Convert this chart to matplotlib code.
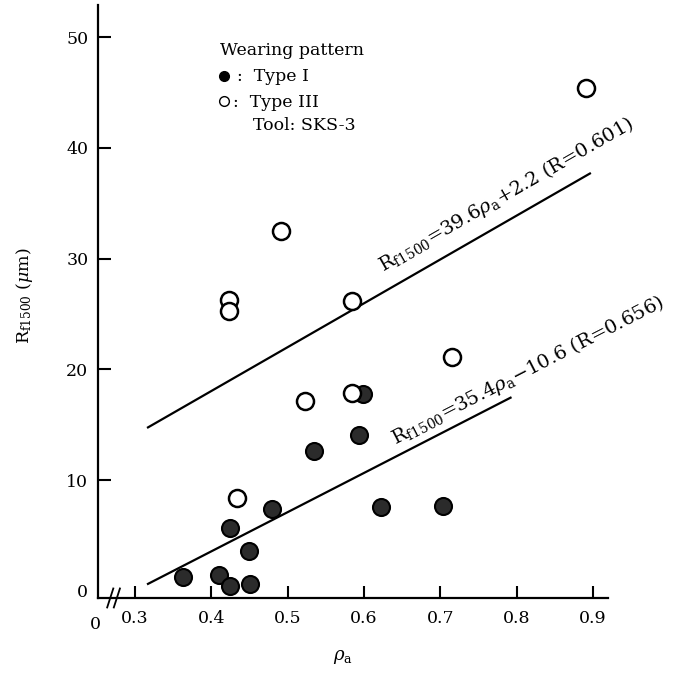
import matplotlib.pyplot as plt
import numpy as np

plt.rcParams['font.family'] = ['DejaVu Serif']
plt.rcParams['mathtext.fontset'] = 'dejavuserif'

# Type I (filled) and Type III (open) wearing pattern
rho_type1 = np.array([0.363, 0.410, 0.424, 0.451, 0.449, 0.424, 0.479, 0.535, 0.599, 0.593, 0.622, 0.703])
rf_type1 = np.array([1.2, 1.4, 0.4, 0.6, 3.6, 5.7, 7.4, 12.6, 17.8, 14.1, 7.6, 7.65])
rho_type3 = np.array([0.433, 0.523, 0.584, 0.715, 0.584, 0.491, 0.423, 0.423, 0.891])
rf_type3 = np.array([8.4, 17.1, 26.2, 21.1, 17.9, 32.5, 26.3, 25.3, 45.4])

# regression lines: slope, intercept, x range
fit_slope = [39.6, 35.4]
fit_icpt = [2.2, -10.6]
fit_xmin = [0.317, 0.317]
fit_xmax = [0.896, 0.792]
fit_text = [r'R$_{\mathrm{f1500}}$=39.6$\rho_{\mathrm{a}}$+2.2 (R=0.601)',
            r'R$_{\mathrm{f1500}}$=35.4$\rho_{\mathrm{a}}$$-$10.6 (R=0.656)']
fit_text_pos = [(0.625, 28.8), (0.641, 13.2)]

xticks = [0.3, 0.4, 0.5, 0.6, 0.7, 0.8, 0.9]
yticks = [0, 10, 20, 30, 40, 50]

fig = plt.figure(figsize=(6.74, 6.83), dpi=100)
ax = fig.add_axes([0.1454, 0.1245, 0.7567, 0.8682])

ax.scatter(rho_type1, rf_type1, s=150, facecolor='#2b2b2b', edgecolor='black', linewidth=1.5, zorder=3, clip_on=False)
ax.scatter(rho_type3, rf_type3, s=150, facecolor='white', edgecolor='black', linewidth=1.8, zorder=3, clip_on=False)

for k in range(2):
    xs = np.array([fit_xmin[k], fit_xmax[k]])
    ax.plot(xs, fit_slope[k] * xs + fit_icpt[k], color='black', lw=1.6)
    ang = np.degrees(np.arctan(fit_slope[k]))
    ax.text(fit_text_pos[k][0], fit_text_pos[k][1], fit_text[k], fontsize=14,
            rotation=ang, transform_rotates_text=True, rotation_mode='anchor',
            ha='left', va='baseline')

ax.set_xlim(0.2515, 0.9197)
ax.set_ylim(-0.65, 52.9)
ax.set_xticks(xticks)
ax.set_xticklabels([f'{v:.1f}' for v in xticks])
ax.set_yticks(yticks)
ax.set_yticklabels([str(v) for v in yticks])
ax.tick_params(direction='in', length=9, width=1.5, labelsize=12.5)
ax.tick_params(axis='x', pad=9)
ax.tick_params(axis='y', pad=7)
ax.yaxis.get_major_ticks()[0].tick1line.set_visible(False)
for s in ['top', 'right']:
    ax.spines[s].set_visible(False)
for s in ['left', 'bottom']:
    ax.spines[s].set_linewidth(1.6)

# axis break marks and origin label
for bx in [0.024, 0.037]:
    ax.plot([bx - 0.006, bx + 0.006], [-0.016, 0.016], color='black', lw=1.3,
            transform=ax.transAxes, clip_on=False)
ax.text(-0.006, -0.03, '0', transform=ax.transAxes, ha='center', va='top', fontsize=12.5)

ax.set_xlabel(r'$\rho_{\mathrm{a}}$', fontsize=13)
ax.xaxis.set_label_coords(0.48, -0.085)
fig.text(0.037, 0.567, r'R$_{\mathrm{f1500}}$ ($\mu$m)', rotation=90, ha='center', va='center', fontsize=12.5)

# legend block
fig.text(0.326, 0.919, 'Wearing pattern', fontsize=12.5, va='baseline')
fig.text(0.352, 0.881, ':  Type I', fontsize=12.5, va='baseline')
fig.text(0.345, 0.843, ':  Type III', fontsize=12.5, va='baseline')
fig.text(0.375, 0.809, 'Tool: SKS-3', fontsize=12.5, va='baseline')
fig.add_artist(plt.Line2D([0.332], [0.889], marker='o', ms=7, color='black', transform=fig.transFigure))
fig.add_artist(plt.Line2D([0.332], [0.852], marker='o', ms=7, mfc='white', mec='black', transform=fig.transFigure))

fig.savefig('out.png', dpi=100)
